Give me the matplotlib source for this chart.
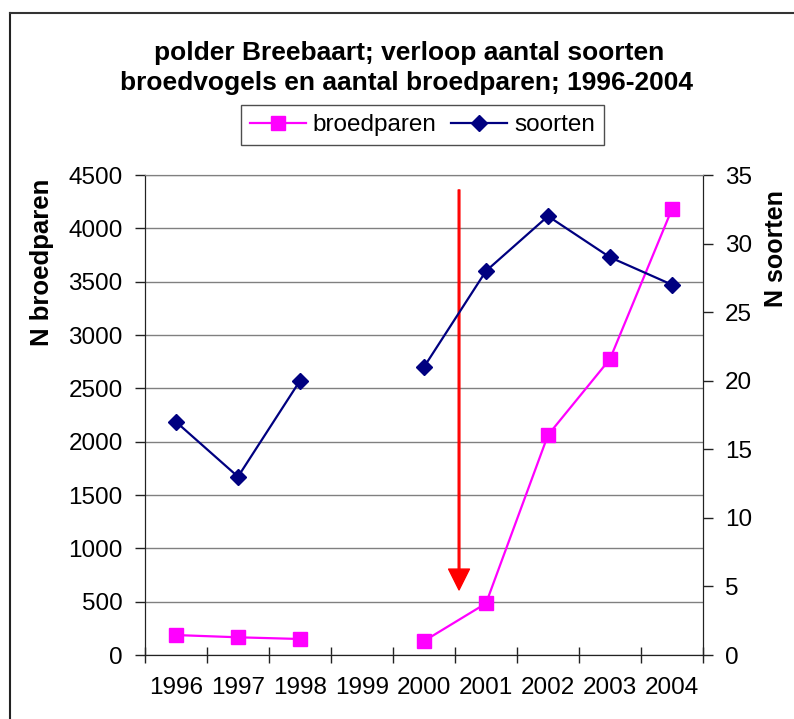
import matplotlib.pyplot as plt
import numpy as np
from matplotlib.lines import Line2D

plt.rcParams['font.family'] = ['Liberation Sans', 'DejaVu Sans']

# data
years = ['1996', '1997', '1998', '1999', '2000', '2001', '2002', '2003', '2004']
broedparen = [187, 166, 150, np.nan, 131, 484, 2062, 2775, 4181]
soorten = [17, 13, 20, np.nan, 21, 28, 32, 29, 27]
arrow_x = 4.565          # year position of the red arrow (between 2000 and 2001)
arrow_from, arrow_to = 4360, 610

W, H = 794, 719
fs = 17.5
fig = plt.figure(figsize=(W / 100, H / 100), dpi=100)
ax = fig.add_axes([145 / W, 1 - 655 / H, (703 - 145) / W, (655 - 175) / H])
ax2 = ax.twinx()

x = np.arange(len(years))

# left axis: broedparen
ax.plot(x, broedparen, color='#ff00ff', lw=1.6, marker='s', ms=9.5,
        label='broedparen', zorder=3)
ax.set_xlim(-0.5, len(years) - 0.5)
ax.set_ylim(0, 4500)
ax.set_yticks(np.arange(0, 4501, 500))
ax.grid(axis='y', color='#808080', lw=1)
ax.set_axisbelow(True)

# category boundaries as major ticks, labels on minor ticks in the middle
ax.set_xticks(np.arange(-0.5, len(years), 1))
ax.set_xticklabels([])
ax.set_xticks(x, minor=True)
ax.set_xticklabels(years, minor=True, fontsize=fs)
ax.tick_params(axis='x', which='major', direction='inout', length=11.5,
               width=1, color='#222222')
ax.tick_params(axis='x', which='minor', length=0, pad=16)
ax.tick_params(axis='y', direction='out', length=7, width=1, pad=9,
               labelsize=fs, color='#222222')

# right axis: soorten
ax2.plot(x, soorten, color='#000080', lw=1.6, marker='D', ms=8,
         label='soorten', zorder=3)
ax2.set_ylim(0, 35)
ax2.set_yticks(np.arange(0, 36, 5))
ax2.tick_params(axis='y', direction='out', length=7, width=1, pad=9,
                labelsize=fs, color='#222222')

for a in (ax, ax2):
    a.spines['top'].set_color('#808080')
    a.spines['left'].set_color('#222222')
    a.spines['right'].set_color('#222222')
    a.spines['bottom'].set_color('#222222')

# red arrow
ax.annotate('', xy=(arrow_x, arrow_to), xytext=(arrow_x, arrow_from),
            arrowprops=dict(facecolor='#ff0000', edgecolor='#ff0000',
                            width=1.2, headwidth=15, headlength=15, shrink=0),
            zorder=4)

# titles and axis labels
fig.text(409 / W, 1 - 60 / H, 'polder Breebaart; verloop aantal soorten',
         ha='center', va='baseline', fontsize=19, fontweight='bold')
fig.text(407 / W, 1 - 90 / H, 'broedvogels en aantal broedparen; 1996-2004',
         ha='center', va='baseline', fontsize=19, fontweight='bold')
fig.text(42 / W, 1 - 262 / H, 'N broedparen', rotation=90, ha='center',
         va='center', fontsize=18.5, fontweight='bold')
fig.text(776 / W, 1 - 249 / H, 'N soorten', rotation=90, ha='center',
         va='center', fontsize=18, fontweight='bold')

# legend
h1, l1 = ax.get_legend_handles_labels()
h2, l2 = ax2.get_legend_handles_labels()
leg = fig.legend(h1 + h2, l1 + l2, loc='center', ncol=2,
                 bbox_to_anchor=(422.5 / W, 1 - 125 / H),
                 bbox_transform=fig.transFigure, fontsize=fs,
                 frameon=True, fancybox=False, edgecolor='#222222',
                 handlelength=2.3, handletextpad=0.3, columnspacing=0.6,
                 borderpad=0.35, borderaxespad=0)
leg.get_frame().set_linewidth(1)

# outer chart frame (only left and top visible in the reference)
fig.add_artist(Line2D([10 / W, 10 / W], [0, 1 - 13 / H], color='#222222',
                      lw=1.5, transform=fig.transFigure))
fig.add_artist(Line2D([10 / W, 1], [1 - 13 / H, 1 - 13 / H], color='#333333',
                      lw=1.5, transform=fig.transFigure))

fig.savefig('out.png', dpi=100)
